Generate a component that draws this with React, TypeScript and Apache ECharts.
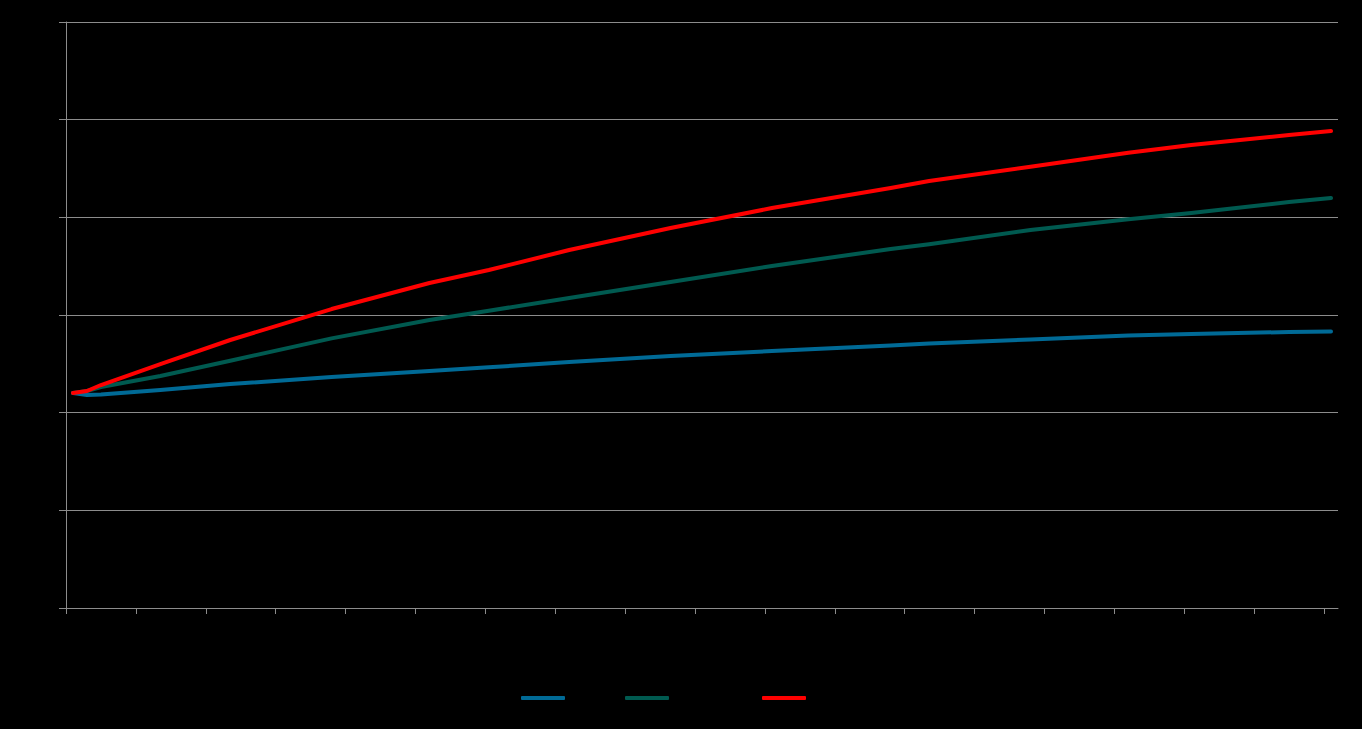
import React, { useEffect, useRef } from "react";
import * as echarts from "echarts";

// x positions (category index units) and series values
const xValues = [1, 3, 5, 13.5, 23.5, 38, 52, 60.5, 72, 86.5, 101, 118, 123.5, 138, 152, 161, 175, 181];
const blueValues = [2.201, 2.181, 2.186, 2.232, 2.293, 2.365, 2.426, 2.464, 2.519, 2.58, 2.631, 2.688, 2.708, 2.749, 2.79, 2.805, 2.826, 2.831];
const greenValues = [2.201, 2.222, 2.263, 2.375, 2.532, 2.761, 2.949, 3.044, 3.174, 3.338, 3.502, 3.676, 3.724, 3.87, 3.98, 4.044, 4.157, 4.198];
const redValues = [2.201, 2.222, 2.283, 2.498, 2.744, 3.061, 3.328, 3.461, 3.665, 3.891, 4.095, 4.3, 4.372, 4.518, 4.662, 4.74, 4.843, 4.884];
const seriesNames = ["Series 1", "Series 2", "Series 3"];
const seriesColors = ["#006a96", "#005a50", "#ff0000"];
const xTicks = [0, 10, 20, 30, 40, 50, 60, 70, 80, 90, 100, 110, 120, 130, 140, 150, 160, 170, 180];
const legendLefts = [516, 620, 757];

export default function App() {
  const ref = useRef<HTMLDivElement>(null);
  useEffect(() => {
    if (!ref.current) return;
    const chart = echarts.init(ref.current, null, { renderer: "svg" });
    const allValues = [blueValues, greenValues, redValues];
    chart.setOption({
      animation: false,
      backgroundColor: "#000000",
      grid: { left: 66, right: 24, top: 22, bottom: 121 },
      legend: seriesNames.map((n, i) => ({
        data: [n],
        left: legendLefts[i],
        top: 691,
        icon: "roundRect",
        itemWidth: 44,
        itemHeight: 4,
        formatter: () => "",
        textStyle: { color: "#000" },
        selectedMode: false,
      })),
      xAxis: {
        type: "value",
        min: 0,
        max: 182,
        axisLine: { show: true, lineStyle: { color: "#8c8c8c", width: 1 } },
        axisTick: { show: true, customValues: xTicks, length: 6, lineStyle: { color: "#8c8c8c" } },
        axisLabel: { show: false },
        splitLine: { show: false },
      },
      yAxis: {
        type: "value",
        min: 0,
        max: 6,
        interval: 1,
        axisLine: { show: true, lineStyle: { color: "#8c8c8c", width: 1 } },
        axisTick: { show: true, length: 7, lineStyle: { color: "#8c8c8c" } },
        axisLabel: { show: false },
        splitLine: { show: true, lineStyle: { color: "#8c8c8c", width: 1 } },
      },
      series: seriesNames.map((n, i) => ({
        name: n,
        type: "line",
        showSymbol: false,
        symbol: "none",
        data: xValues.map((x, j) => [x, allValues[i][j]]),
        lineStyle: { color: seriesColors[i], width: 4, cap: "round", join: "round" },
        itemStyle: { color: seriesColors[i] },
        z: i === 0 ? 4 : i === 1 ? 3 : 5,
      })),
    });
    return () => chart.dispose();
  }, []);
  return (
    <div
      ref={ref}
      style={{ position: "fixed", left: 0, top: 0, width: 1362, height: 729, background: "#000" }}
    />
  );
}
